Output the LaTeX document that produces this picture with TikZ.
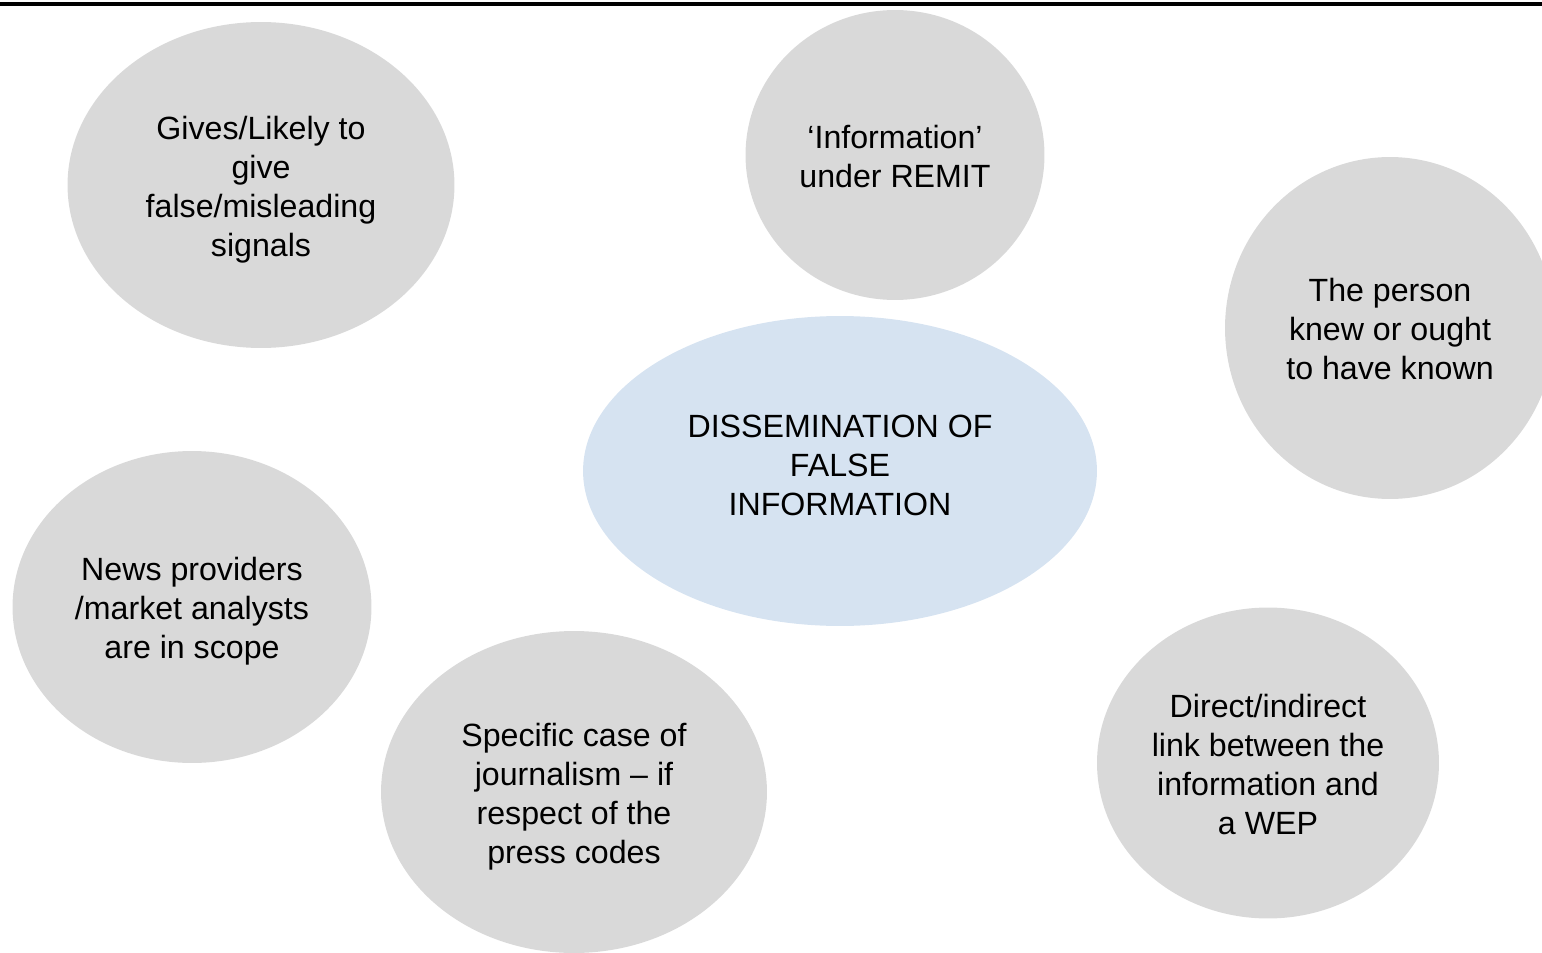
\documentclass[tikz,border=0pt]{standalone}
\usepackage{fontspec}
\setmainfont{Liberation Sans}
\usepackage{tikz}
\usetikzlibrary{shapes.geometric, positioning}
\usepackage{xcolor}
\definecolor{bubblegray}{HTML}{D9D9D9}
\definecolor{bubbleblue}{HTML}{D6E3F1}
\newcommand{\bubbletop}{\rule{0pt}{21.3pt}}   % pushes grey bubble text a little lower
\tikzset{
  bubble/.style={ellipse, fill=bubblegray, draw=none, inner sep=0pt,
                 align=center, text=black,
                 font=\fontsize{18.3}{22.2}\selectfont,
                 execute at end node=\strut},
  bubbleC/.style={bubble, fill=bubbleblue},
}

\begin{document}
\begin{tikzpicture}[x=0.02cm, y=-0.02cm]   %% one unit = one pixel of the layout

  \useasboundingbox (0,0) rectangle (1542,953);

  %% ── Rule across the top ─────────────────────────────────────────────────
  \draw[line width=2.3pt] (0,4) -- (1542,4);

  %% ── Centre topic ────────────────────────────────────────────────────────
  \node[bubbleC, minimum width=10.28cm, minimum height=6.2cm] (dissem) at (840,471)
       {DISSEMINATION OF\\FALSE\\INFORMATION};

  %% ── Surrounding conditions ──────────────────────────────────────────────
  \node[bubble, minimum width=7.74cm, minimum height=6.52cm] (signals) at (261,185)
       {\bubbletop Gives/Likely to\\give\\false/misleading\\signals};
  \node[bubble, minimum width=5.98cm, minimum height=5.8cm] (remit) at (895,155)
       {\bubbletop ‘Information’\\under REMIT};
  \node[bubble, minimum width=6.6cm, minimum height=6.84cm] (knew) at (1390,328)
       {\bubbletop The person\\knew or ought\\to have known};
  \node[bubble, minimum width=7.18cm, minimum height=6.24cm] (news) at (192,607)
       {\bubbletop News providers\\/market analysts\\are in scope};
  \node[bubble, minimum width=7.72cm, minimum height=6.44cm] (press) at (574,792)
       {\bubbletop Specific case of\\journalism – if\\respect of the\\press codes};
  \node[bubble, minimum width=6.84cm, minimum height=6.22cm] (wep) at (1268,763)
       {\bubbletop Direct/indirect\\link between the\\information and\\a WEP};

\end{tikzpicture}
\end{document}
